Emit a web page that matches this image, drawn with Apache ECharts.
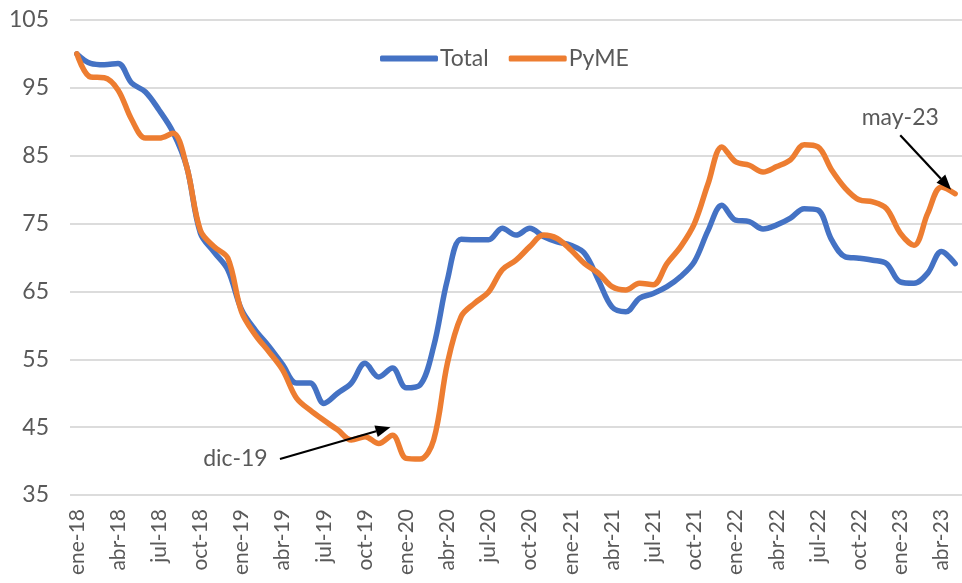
<!DOCTYPE html>
<html>
<head>
<meta charset="utf-8">
<title>Total vs PyME</title>
<script src="https://cdn.jsdelivr.net/npm/echarts@6/dist/echarts.min.js"></script>
<style>
  html, body { margin: 0; padding: 0; background: #fff; }
  #main { width: 962px; height: 583px; }
</style>
</head>
<body>
<div id="main"></div>
<script>
// meses en castellano, ene-18 .. may-23
var months = ['ene', 'feb', 'mar', 'abr', 'may', 'jun', 'jul', 'ago', 'sep', 'oct', 'nov', 'dic'];
var years = ['18', '19', '20', '21', '22', '23'];
var lastMonth = 5; // may-23

var categories = [];
years.forEach(function (y, yi) {
    months.forEach(function (m, mi) {
        if (yi === years.length - 1 && mi >= lastMonth) return;
        categories.push(m + '-' + y);
    });
});

var total = [100, 98.6, 98.4, 98.6, 95.7, 94.4, 91.7, 88.5, 83.4, 73.6, 70.8, 68.2,
             62.3, 59.3, 56.9, 54.2, 51.5, 51.5, 48.5, 50.0, 51.5, 54.4, 52.4, 53.7,
             50.8, 51.2, 56.9, 66.7, 72.7, 72.6, 72.6, 74.3, 73.3, 74.3, 73.1, 72.3,
             71.8, 70.6, 66.7, 62.7, 62.0, 64.0, 64.7, 65.7, 67.2, 69.4, 74.0, 77.7,
             75.5, 75.3, 74.2, 74.8, 75.8, 77.2, 77.0, 72.6, 70.1, 69.9, 69.6, 69.1,
             66.4, 66.2, 67.7, 70.9, 69.1];

var pyme = [100, 96.6, 96.5, 94.7, 90.3, 87.6, 87.6, 88.3, 83.4, 74.0, 71.6, 69.9,
            62.0, 58.6, 56.1, 53.4, 49.3, 47.5, 46.0, 44.6, 43.1, 43.6, 42.6, 43.8,
            40.4, 40.3, 43.1, 54.4, 61.3, 63.3, 64.9, 68.2, 69.6, 71.6, 73.3, 72.8,
            71.1, 69.1, 67.7, 65.7, 65.2, 66.2, 66.0, 69.1, 71.6, 75.0, 80.9, 86.3,
            84.1, 83.6, 82.6, 83.4, 84.4, 86.6, 86.3, 82.9, 80.2, 78.5, 78.2, 77.2,
            73.6, 71.8, 76.5, 80.4, 79.4];

var yTicks = [35, 45, 55, 65, 75, 85, 95, 105];

var txt = '#595959';
var font = 'Lato, "Liberation Sans", sans-serif';

var myChart = echarts.init(document.getElementById('main'));
var option = {
    animation: false,
    textStyle: { fontFamily: font },
    legend: {
        data: ['Total', 'PyME'],
        left: 375,
        top: 42,
        icon: 'roundRect',
        itemWidth: 58,
        itemHeight: 6,
        itemGap: 20,
        textStyle: { color: txt, fontSize: 23, fontFamily: font, padding: [0, 0, 0, -3] }
    },
    grid: { left: 70, top: 20, width: 899, bottom: 88 },
    xAxis: {
        type: 'category',
        data: categories,
        boundaryGap: true,
        axisLine: { show: false },
        axisTick: { show: false },
        axisLabel: { interval: 2, rotate: 90, color: txt, fontSize: 21, margin: 14, fontFamily: font }
    },
    yAxis: {
        type: 'value',
        min: yTicks[0],
        max: yTicks[yTicks.length - 1],
        interval: 10,
        axisLine: { show: false },
        axisTick: { show: false },
        axisLabel: { color: txt, fontSize: 23, margin: 21, fontFamily: font },
        splitLine: { lineStyle: { color: '#d0d0d0', width: 1.5 } }
    },
    series: [
        {
            name: 'Total', type: 'line', data: total, smooth: 0.35,
            symbol: 'none', color: '#4472C4',
            lineStyle: { width: 5.5, color: '#4472C4', cap: 'round' }
        },
        {
            name: 'PyME', type: 'line', data: pyme, smooth: 0.35,
            symbol: 'none', color: '#ED7D31',
            lineStyle: { width: 5.5, color: '#ED7D31', cap: 'round' }
        }
    ]
};
myChart.setOption(option);

// anotaciones: posición a partir de los datos
function pt(idx, val) {
    var i0 = Math.floor(idx), f = idx - i0;
    var a = myChart.convertToPixel({ gridIndex: 0 }, [i0, val]);
    var b = myChart.convertToPixel({ gridIndex: 0 }, [i0 + 1, val]);
    return [a[0] + f * (b[0] - a[0]), a[1]];
}
function arrow(p0, p1) {
    var dx = p1[0] - p0[0], dy = p1[1] - p0[1];
    var len = Math.sqrt(dx * dx + dy * dy), ux = dx / len, uy = dy / len;
    var hl = 15, hw = 6;
    var base = [p1[0] - ux * hl, p1[1] - uy * hl];
    return [
        { type: 'line', shape: { x1: p0[0], y1: p0[1], x2: base[0], y2: base[1] },
          style: { stroke: '#000', lineWidth: 2.2 }, z: 100 },
        { type: 'polygon', shape: { points: [p1,
            [base[0] - uy * hw, base[1] + ux * hw],
            [base[0] + uy * hw, base[1] - ux * hw]] },
          style: { fill: '#000' }, z: 100 }
    ];
}
var iDic = categories.indexOf('dic-19');
var iMay = categories.indexOf('may-23');
var dicTxt = pt(13.9, 40.3);
var dicStart = pt(14.8, 40.3);
var dicEnd = [pt(iDic, pyme[iDic])[0] - 2, pt(iDic, pyme[iDic] + 1.2)[1]];
var mayTxt = pt(60, 90.6);
var mayStart = pt(60, 88.0);
var mayEnd = [pt(iMay, pyme[iMay])[0] - 4, pt(iMay, pyme[iMay] + 0.6)[1]];

var graphics = [
    { type: 'text', x: dicTxt[0], y: dicTxt[1], z: 100,
      style: { text: 'dic-19', fill: txt, font: '23px ' + font, align: 'right', verticalAlign: 'middle' } },
    { type: 'text', x: mayTxt[0], y: mayTxt[1], z: 100,
      style: { text: 'may-23', fill: txt, font: '23px ' + font, align: 'center', verticalAlign: 'middle' } }
].concat(arrow(dicStart, dicEnd)).concat(arrow(mayStart, mayEnd));

myChart.setOption({ graphic: graphics });
</script>
</body>
</html>
